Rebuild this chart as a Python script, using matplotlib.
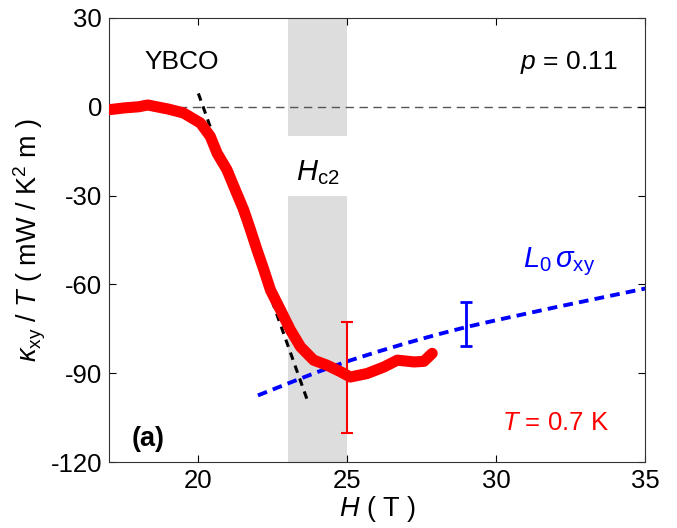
import matplotlib
matplotlib.use("Agg")
import matplotlib.pyplot as plt

plt.rcParams['font.family'] = ['Liberation Sans', 'DejaVu Sans']
plt.rcParams['mathtext.fontset'] = 'custom'
plt.rcParams['mathtext.rm'] = 'Liberation Sans'
plt.rcParams['mathtext.it'] = 'Liberation Sans:italic'
plt.rcParams['mathtext.bf'] = 'Liberation Sans:bold'
plt.rcParams['axes.unicode_minus'] = False

# kappa_xy / T data, T = 0.7 K
H_data = [17.0, 17.5, 18.0, 18.3, 18.7, 19.0, 19.5, 20.07, 20.4, 20.63, 20.96, 21.24,
          21.52, 21.75, 21.97, 22.2, 22.42, 22.76, 23.09, 23.43, 23.87, 24.32, 24.77,
          25.1, 25.67, 26.23, 26.68, 27.24, 27.57, 27.85]
kxy_data = [-1.0, -0.4, 0.0, 0.6, -0.2, -0.8, -2.1, -5.5, -10.0, -15.7, -21.3, -28.1,
            -34.8, -41.6, -48.4, -55.1, -61.9, -68.7, -75.4, -81.1, -85.6, -87.3, -89.5,
            -91.3, -90.1, -87.9, -85.6, -86.2, -86.0, -83.3]

# L0 sigma_xy
H_L0 = [22, 23, 24, 25, 26, 27, 28, 29, 30, 31, 32, 33, 34, 35]
L0sxy = [-97.5, -93.5, -89.6, -86.0, -82.8, -79.8, -77.0, -74.4, -72.1, -69.9, -67.7,
         -65.6, -63.5, -61.4]

# tangent line
H_tan = [20.0, 23.7]
k_tan = [4.5, -100.3]

# error bars
err_red = (25.0, -91.4, 18.7)
err_blue = (29.0, -73.3, 7.5)

# H_c2 band
hc2_lo, hc2_hi = 23.0, 25.0

fig = plt.figure(figsize=(6.77, 5.28), dpi=100)
ax = fig.add_axes([0.161, 0.125, 0.792, 0.841])

ax.fill_between([hc2_lo, hc2_hi], -10, 30, color='#dddddd', lw=0, zorder=0)
ax.fill_between([hc2_lo, hc2_hi], -120, -30, color='#dddddd', lw=0, zorder=0)

ax.axhline(0, color='#555555', ls=(0, (6, 4)), lw=1.0, zorder=1)
ax.plot(H_tan, k_tan, color='black', ls=(0, (2.5, 2)), lw=2.2, zorder=2)
ax.plot(H_L0, L0sxy, color='blue', ls=(0, (2.5, 1.6)), lw=2.8, zorder=2)

ax.plot(H_data, kxy_data, color='red', lw=8, solid_capstyle='round',
        solid_joinstyle='round', zorder=3)

ax.errorbar(err_red[0], err_red[1], yerr=err_red[2], color='red', lw=1.5,
            capsize=4, capthick=1.5, zorder=4)
ax.errorbar(err_blue[0], err_blue[1], yerr=err_blue[2], color='blue', lw=2,
            capsize=4, capthick=2, zorder=4)

ax.set_xlim(17, 35)
ax.set_ylim(-120, 30)
ax.set_xticks([20, 25, 30, 35])
ax.set_yticks([-120, -90, -60, -30, 0, 30])
ax.tick_params(direction='in', top=True, right=True, labelsize=18.5, length=5,
               width=0.8, pad=5)
for s in ax.spines.values():
    s.set_linewidth(0.8)
    s.set_color('#333333')

ax.set_xlabel(r'$\it{H}$ ( T )', fontsize=19.5, labelpad=1)
ax.set_ylabel(r'$\kappa_{\rm xy}$ / $\it{T}$ ( mW / K$^2$ m )', fontsize=19.5, labelpad=2)

ax.text(19.43, 15, 'YBCO', fontsize=19, ha='center', va='center')
ax.text(34.08, 15, r'$\it{p}$ = 0.11', fontsize=19, ha='right', va='center')
ax.text(24.0, -22.3, r'$\it{H}_{\rm c2}$', fontsize=21, ha='center', va='center')
ax.text(32.1, -52.4, r'$\it{L}_{\rm 0}\,\it{\sigma}_{\rm xy}$', fontsize=21, color='blue',
        ha='center', va='center')
ax.text(32.0, -106.9, r'$\it{T}$ = 0.7 K', fontsize=18.5, color='red', ha='center',
        va='center')
ax.text(18.32, -112.3, '(a)', fontsize=19.5, fontweight='bold', ha='center', va='center')

fig.savefig('out.png', dpi=100)
